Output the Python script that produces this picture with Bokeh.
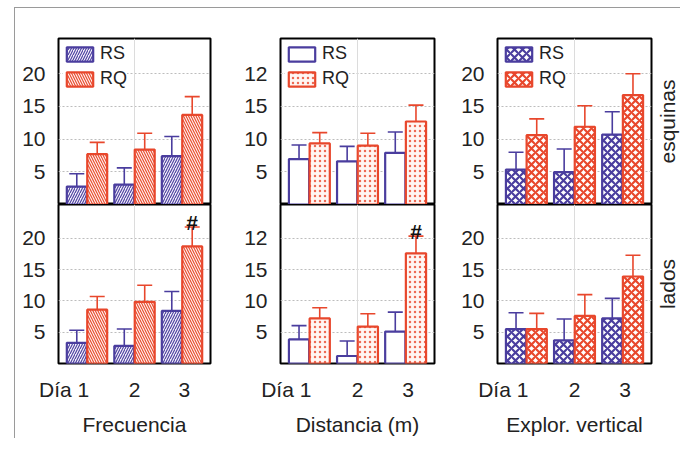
import math
from bokeh.plotting import figure
from bokeh.models import (Range1d, FixedTicker, Grid, Whisker, TeeHead,
                          ColumnDataSource, Spacer)
from bokeh.layouts import row, column
from bokeh.embed import file_html
from bokeh.resources import INLINE
from bokeh.core.properties import value

# ---------------- data ----------------
DAYS = [1, 2, 3]
DAY_LABELS = ["Día 1", "2", "3"]
MEASURES = ["Frecuencia", "Distancia (m)", "Explor. vertical"]
ROW_NAMES = ["esquinas", "lados"]
SERIES = ["RS", "RQ"]
Y_TICKS = [5, 10, 15, 20]
Y_TICK_LABELS = [["5", "10", "15", "20"],
                 ["5", "10", "15", "12"],
                 ["5", "10", "15", "20"]]

# Frecuencia
FREC_ESQ_RS = [2.75, 3.05, 7.4]
FREC_ESQ_RS_HI = [4.7, 5.6, 10.4]
FREC_ESQ_RQ = [7.7, 8.4, 13.7]
FREC_ESQ_RQ_HI = [9.5, 10.9, 16.5]
FREC_LAD_RS = [3.3, 2.8, 8.4]
FREC_LAD_RS_HI = [5.3, 5.5, 11.5]
FREC_LAD_RQ = [8.6, 9.85, 18.7]
FREC_LAD_RQ_HI = [10.7, 12.5, 21.8]
FREC_LAD_SIG = ["", "", "#"]

# Distancia (m)
DIST_ESQ_RS = [6.95, 6.6, 7.9]
DIST_ESQ_RS_HI = [9.1, 8.9, 11.1]
DIST_ESQ_RQ = [9.35, 9.0, 12.7]
DIST_ESQ_RQ_HI = [11.0, 10.9, 15.2]
DIST_LAD_RS = [3.85, 1.2, 5.1]
DIST_LAD_RS_HI = [6.05, 3.6, 8.2]
DIST_LAD_RQ = [7.2, 5.9, 17.6]
DIST_LAD_RQ_HI = [8.9, 7.95, 20.35]
DIST_LAD_SIG = ["", "", "#"]

# Explor. vertical
EXPL_ESQ_RS = [5.35, 4.95, 10.7]
EXPL_ESQ_RS_HI = [8.0, 8.5, 14.2]
EXPL_ESQ_RQ = [10.6, 11.9, 16.75]
EXPL_ESQ_RQ_HI = [13.1, 15.1, 20.0]
EXPL_LAD_RS = [5.5, 3.7, 7.2]
EXPL_LAD_RS_HI = [8.1, 7.1, 10.4]
EXPL_LAD_RQ = [5.5, 7.6, 13.9]
EXPL_LAD_RQ_HI = [8.0, 11.0, 17.3]
EXPL_LAD_SIG = ["", "", ""]

PANELS = [
    [(FREC_ESQ_RS, FREC_ESQ_RS_HI, FREC_ESQ_RQ, FREC_ESQ_RQ_HI, None),
     (FREC_LAD_RS, FREC_LAD_RS_HI, FREC_LAD_RQ, FREC_LAD_RQ_HI, FREC_LAD_SIG)],
    [(DIST_ESQ_RS, DIST_ESQ_RS_HI, DIST_ESQ_RQ, DIST_ESQ_RQ_HI, None),
     (DIST_LAD_RS, DIST_LAD_RS_HI, DIST_LAD_RQ, DIST_LAD_RQ_HI, DIST_LAD_SIG)],
    [(EXPL_ESQ_RS, EXPL_ESQ_RS_HI, EXPL_ESQ_RQ, EXPL_ESQ_RQ_HI, None),
     (EXPL_LAD_RS, EXPL_LAD_RS_HI, EXPL_LAD_RQ, EXPL_LAD_RQ_HI, EXPL_LAD_SIG)],
]

# ---------------- styles ----------------
BLUE = "#4a3d9e"
RED = "#e8472c"
FONT = "Liberation Sans"
TXT = "#222222"

STYLE = [
    ({"fill_color": "#f2f0fa", "hatch_pattern": "/", "hatch_color": BLUE, "hatch_scale": 5, "hatch_weight": 1.1},
     {"fill_color": "#fdf0ec", "hatch_pattern": "\\", "hatch_color": RED, "hatch_scale": 5, "hatch_weight": 1.1}),
    ({"fill_color": "white"},
     {"fill_color": "#fff6f3", "hatch_pattern": ".", "hatch_color": RED, "hatch_scale": 5, "hatch_weight": 1.3,
      "hatch_alpha": 0.8}),
    ({"fill_color": "white", "hatch_pattern": "x", "hatch_color": BLUE, "hatch_scale": 8, "hatch_weight": 2.2},
     {"fill_color": "white", "hatch_pattern": "x", "hatch_color": RED, "hatch_scale": 8, "hatch_weight": 2.2}),
]

WIDTHS = [(43, 152, 27), (43, 154, 21), (42, 154, 2)]  # left border, frame, right border
SIDE_W = 27
TOP_BORDER = 30
FRAME_H = 166
BOTTOM_BORDER = 68
OFFSET = 0.215
BAR_W = 0.42
X_MIN, X_MAX = 0.4, 3.6
Y_MAX = 25.4
XTICK_POS = [0.52, 2, 3.05]


def make_panel(ci, ri):
    lb, fw, rb = WIDTHS[ci]
    top = ri == 0
    h = TOP_BORDER + FRAME_H if top else FRAME_H + BOTTOM_BORDER
    p = figure(width=lb + fw + rb, height=h,
               x_range=Range1d(X_MIN, X_MAX), y_range=Range1d(0, Y_MAX),
               x_axis_location=None if top else "below",
               output_backend="svg", toolbar_location=None,
               min_border_left=lb, min_border_right=rb,
               min_border_top=TOP_BORDER if top else 0,
               min_border_bottom=0 if top else BOTTOM_BORDER)
    p.background_fill_color = "white"
    p.border_fill_color = "white"
    p.outline_line_color = "black"
    p.outline_line_width = 2
    for g in p.grid:
        g.visible = False
    p.add_layout(Grid(dimension=1, ticker=FixedTicker(ticks=Y_TICKS),
                      grid_line_color="#bdbdbd", grid_line_dash="2 2", grid_line_width=1))
    p.add_layout(Grid(dimension=0, ticker=FixedTicker(ticks=[2]),
                      grid_line_color="#dcdcdc", grid_line_width=1))

    ya = p.yaxis[0]
    ya.ticker = FixedTicker(ticks=Y_TICKS)
    ya.major_label_overrides = {t: l for t, l in zip(Y_TICKS, Y_TICK_LABELS[ci])}
    ya.axis_line_color = None
    ya.major_tick_line_color = None
    ya.minor_tick_line_color = None
    ya.major_label_standoff = 7
    ya.major_label_text_font = FONT
    ya.major_label_text_font_size = "21px"
    ya.major_label_text_color = TXT

    if not top:
        xa = p.xaxis[0]
        xa.ticker = FixedTicker(ticks=XTICK_POS)
        xa.major_label_overrides = {t: l for t, l in zip(XTICK_POS, DAY_LABELS)}
        xa.axis_line_color = None
        xa.major_tick_line_color = None
        xa.minor_tick_line_color = None
        xa.major_label_standoff = 8
        xa.major_label_text_font = FONT
        xa.major_label_text_font_size = "21px"
        xa.major_label_text_color = TXT
        xa.axis_label = MEASURES[ci]
        xa.axis_label_standoff = 9
        xa.axis_label_text_font = FONT
        xa.axis_label_text_font_size = "21px"
        xa.axis_label_text_font_style = "normal"
        xa.axis_label_text_color = TXT

    rs, rs_hi, rq, rq_hi, sig = PANELS[ci][ri]
    st_rs, st_rq = STYLE[ci]
    for vals, hi, off, col, st, name in [(rs, rs_hi, -OFFSET, BLUE, st_rs, SERIES[0]),
                                         (rq, rq_hi, OFFSET, RED, st_rq, SERIES[1])]:
        xs = [d + off for d in DAYS]
        src = ColumnDataSource(dict(x=xs, top=vals, hi=hi))
        kw = dict(legend_label=name) if top else {}
        p.vbar(x="x", top="top", width=BAR_W, bottom=0, source=src,
               line_color=col, line_width=2.2, **st, **kw)
        p.add_layout(Whisker(source=src, base="x", lower="top", upper="hi",
                             line_color=col, line_width=1.6, lower_head=None,
                             upper_head=TeeHead(size=15, line_color=col, line_width=1.6)))
        if sig is not None and off > 0:
            ssrc = ColumnDataSource(dict(x=xs, y=[h_ + 0.8 for h_ in hi], t=sig))
            p.text(x="x", y="y", text="t", source=ssrc, text_align="center",
                   text_baseline="alphabetic", text_font=value(FONT),
                   text_font_size="21px", text_font_style="bold", text_color="#111111")

    if top:
        lg = p.legend[0]
        lg.location = "top_left"
        lg.margin = 5
        lg.padding = 7
        lg.spacing = 4
        lg.glyph_width = 33
        lg.glyph_height = 18
        lg.label_standoff = 4
        lg.label_height = 18
        lg.label_text_font = FONT
        lg.label_text_font_size = "18px"
        lg.label_text_color = TXT
        lg.border_line_color = None
        lg.background_fill_color = "white"
        lg.background_fill_alpha = 1.0
    return p


def make_side(ri):
    """Narrow figure holding the rotated row name to the right of the last column."""
    top = ri == 0
    h = TOP_BORDER + FRAME_H if top else FRAME_H + BOTTOM_BORDER
    s = figure(width=SIDE_W, height=h, x_range=Range1d(0, 1), y_range=Range1d(0, Y_MAX),
               x_axis_location=None, y_axis_location=None,
               output_backend="svg", toolbar_location=None,
               min_border_left=0, min_border_right=0,
               min_border_top=TOP_BORDER if top else 0,
               min_border_bottom=0 if top else BOTTOM_BORDER)
    s.outline_line_color = None
    s.background_fill_color = "white"
    s.border_fill_color = "white"
    s.grid.visible = False
    src = ColumnDataSource(dict(x=[0.5], y=[Y_MAX / 2], t=[ROW_NAMES[ri]]))
    s.text(x="x", y="y", text="t", source=src, angle=math.pi / 2,
           text_align="center", text_baseline="middle", text_font=value(FONT),
           text_font_size="21px", text_color=TXT)
    return s


top_row = row([make_panel(c, 0) for c in range(3)] + [make_side(0)], spacing=0)
bot_row = row([make_panel(c, 1) for c in range(3)] + [make_side(1)], spacing=0)
inner = column([top_row, bot_row], spacing=0,
               styles={"border-top": "1px solid #9a9a9a",
                       "border-left": "1px solid #9a9a9a"})
layout = column([Spacer(height=7, width=10),
                 row([Spacer(width=14, height=10), inner], spacing=0)], spacing=0)

open("out.html", "w").write(file_html(layout, INLINE))
